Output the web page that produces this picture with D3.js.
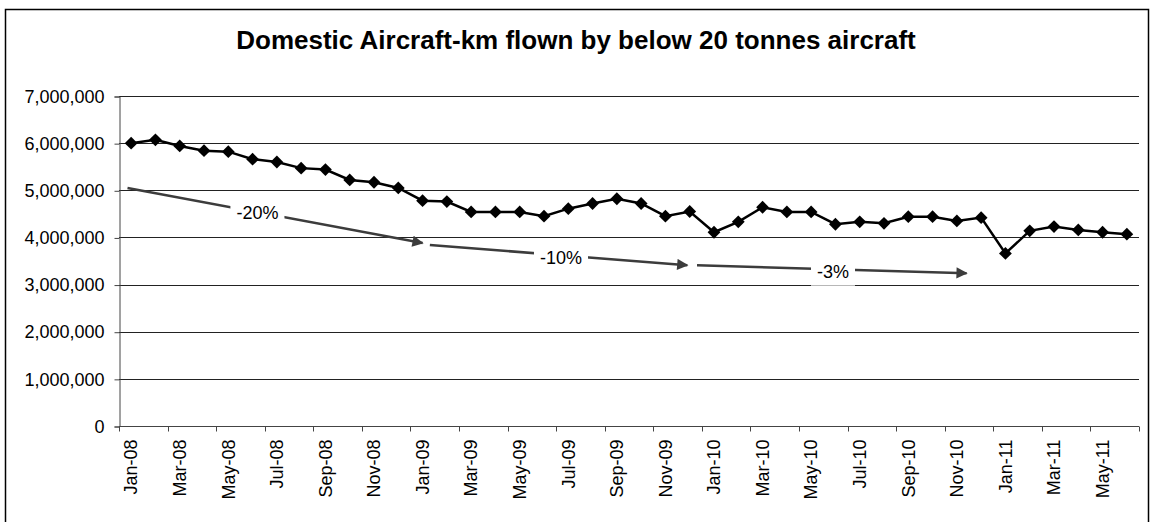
<!DOCTYPE html>
<html lang="en">
<head>
  <meta charset="utf-8">
  <title>Domestic Aircraft-km</title>
  <script src="https://cdn.jsdelivr.net/npm/d3@7"></script>
  <style>
    body { margin: 0; background: #fff; }
    text { font-family: "Liberation Sans", Arial, sans-serif; }
  </style>
</head>
<body>
  <svg class="chart" width="1156" height="522"></svg>
  <script>
    var months = ["Jan-08","Feb-08","Mar-08","Apr-08","May-08","Jun-08","Jul-08","Aug-08","Sep-08","Oct-08","Nov-08","Dec-08",
                  "Jan-09","Feb-09","Mar-09","Apr-09","May-09","Jun-09","Jul-09","Aug-09","Sep-09","Oct-09","Nov-09","Dec-09",
                  "Jan-10","Feb-10","Mar-10","Apr-10","May-10","Jun-10","Jul-10","Aug-10","Sep-10","Oct-10","Nov-10","Dec-10",
                  "Jan-11","Feb-11","Mar-11","Apr-11","May-11","Jun-11"];

    var km = [6000000, 6070000, 5940000, 5840000, 5820000, 5660000, 5600000, 5470000, 5440000, 5220000, 5170000, 5050000,
              4780000, 4760000, 4540000, 4540000, 4540000, 4450000, 4610000, 4720000, 4820000, 4720000, 4450000, 4550000,
              4110000, 4330000, 4640000, 4540000, 4540000, 4280000, 4330000, 4300000, 4440000, 4440000, 4350000, 4420000,
              3660000, 4140000, 4230000, 4160000, 4110000, 4070000];

    var yTicks = [0, 1000000, 2000000, 3000000, 4000000, 5000000, 6000000, 7000000];

    // trend arrows: [month index, value] start and end, label position
    var trendLabels = ["-20%", "-10%", "-3%"];
    var trendFrom = [[-0.15, 5050000], [12.3, 3840000], [23.3, 3410000]];
    var trendTo   = [[12.0, 3880000], [22.9, 3410000], [34.4, 3240000]];
    var trendText = [[5.2, 4520000], [17.7, 3580000], [28.9, 3280000]];

    var width = 1156, height = 522;
    var margin = { left: 119, right: 17, top: 96, bottom: 96 };

    var svg = d3.select("svg.chart");

    svg.append("rect")
       .attr("x", 5.5).attr("y", 9.5)
       .attr("width", 1143).attr("height", 520)
       .attr("fill", "none")
       .attr("stroke", "#000")
       .attr("stroke-width", 1.5);

    svg.append("text")
       .attr("x", 576).attr("y", 49)
       .attr("text-anchor", "middle")
       .attr("font-size", 26)
       .attr("font-weight", "bold")
       .text("Domestic Aircraft-km flown by below 20 tonnes aircraft");

    var x = d3.scaleBand()
              .domain(months)
              .range([margin.left, width - margin.right])
              .padding(0);

    var y = d3.scaleLinear()
              .domain([0, 7000000])
              .range([426, 96]);

    var step = x.step();
    var xi = function(i) { return x(months[0]) + step * (i + 0.5); };

    // gridlines
    svg.append("g")
       .selectAll("line")
       .data(yTicks.slice(1))
       .enter().append("line")
       .attr("x1", margin.left).attr("x2", width - margin.right)
       .attr("y1", function(d) { return Math.round(y(d)) + 0.5; })
       .attr("y2", function(d) { return Math.round(y(d)) + 0.5; })
       .attr("stroke", "#222")
       .attr("stroke-width", 1);

    // y axis
    var yAxis = svg.append("g")
       .attr("transform", "translate(" + (margin.left + 0.5) + ",0.5)")
       .call(d3.axisLeft(y).tickValues(yTicks).tickSize(5).tickPadding(10)
               .tickFormat(d3.format(",")));
    yAxis.selectAll("path, line").attr("stroke", "#444");
    yAxis.selectAll("text").attr("font-size", 18).attr("fill", "#000")
         .attr("font-family", "Liberation Sans, Arial, sans-serif");

    // x axis
    var x0 = Math.round(y(0)) + 0.5;
    var gx = svg.append("g");
    gx.append("line")
      .attr("x1", margin.left).attr("x2", width - margin.right)
      .attr("y1", x0).attr("y2", x0)
      .attr("stroke", "#444");
    gx.selectAll("line.tick")
      .data(d3.range(0, months.length + 1, 2))
      .enter().append("line")
      .attr("class", "tick")
      .attr("x1", function(i) { return Math.round(x(months[0]) + step * i) + 0.5; })
      .attr("x2", function(i) { return Math.round(x(months[0]) + step * i) + 0.5; })
      .attr("y1", x0).attr("y2", x0 + 5)
      .attr("stroke", "#444");
    gx.selectAll("text")
      .data(months.filter(function(d, i) { return i % 2 === 0; }))
      .enter().append("text")
      .attr("transform", function(d) {
        return "translate(" + (x(d) + step / 2) + "," + (x0 + 13) + ") rotate(-90)";
      })
      .attr("text-anchor", "end")
      .attr("dy", "0.35em")
      .attr("font-size", 18)
      .text(function(d) { return d; });

    // trend arrows
    svg.append("defs").append("marker")
       .attr("id", "head")
       .attr("viewBox", "0 0 10 10")
       .attr("refX", 9).attr("refY", 5)
       .attr("markerWidth", 5.5).attr("markerHeight", 4.5)
       .attr("markerUnits", "strokeWidth")
       .attr("orient", "auto")
       .append("path")
       .attr("d", "M0,0L10,5L0,10Z")
       .attr("fill", "#3c3c3c");

    trendLabels.forEach(function(lab, k) {
      svg.append("line")
         .attr("x1", xi(trendFrom[k][0])).attr("y1", y(trendFrom[k][1]))
         .attr("x2", xi(trendTo[k][0])).attr("y2", y(trendTo[k][1]))
         .attr("stroke", "#3c3c3c")
         .attr("stroke-width", 2.5)
         .attr("marker-end", "url(#head)");
      var t = svg.append("text")
         .attr("x", xi(trendText[k][0])).attr("y", y(trendText[k][1]))
         .attr("text-anchor", "middle")
         .attr("dy", "0.35em")
         .attr("font-size", 18)
         .text(lab);
      var b = t.node().getBBox();
      svg.insert("rect", function() { return t.node(); })
         .attr("x", b.x - 6).attr("y", b.y - 4)
         .attr("width", b.width + 12).attr("height", b.height + 8)
         .attr("fill", "#fff");
    });

    // series line
    var line = d3.line()
                 .x(function(d, i) { return xi(i); })
                 .y(function(d) { return y(d); });

    svg.append("path")
       .datum(km)
       .attr("d", line)
       .attr("fill", "none")
       .attr("stroke", "#000")
       .attr("stroke-width", 2.5);

    svg.append("g")
       .selectAll("path")
       .data(km)
       .enter().append("path")
       .attr("d", d3.symbol(d3.symbolSquare, 82))
       .attr("transform", function(d, i) { return "translate(" + xi(i) + "," + y(d) + ") rotate(45)"; })
       .attr("fill", "#000");
  </script>
</body>
</html>
